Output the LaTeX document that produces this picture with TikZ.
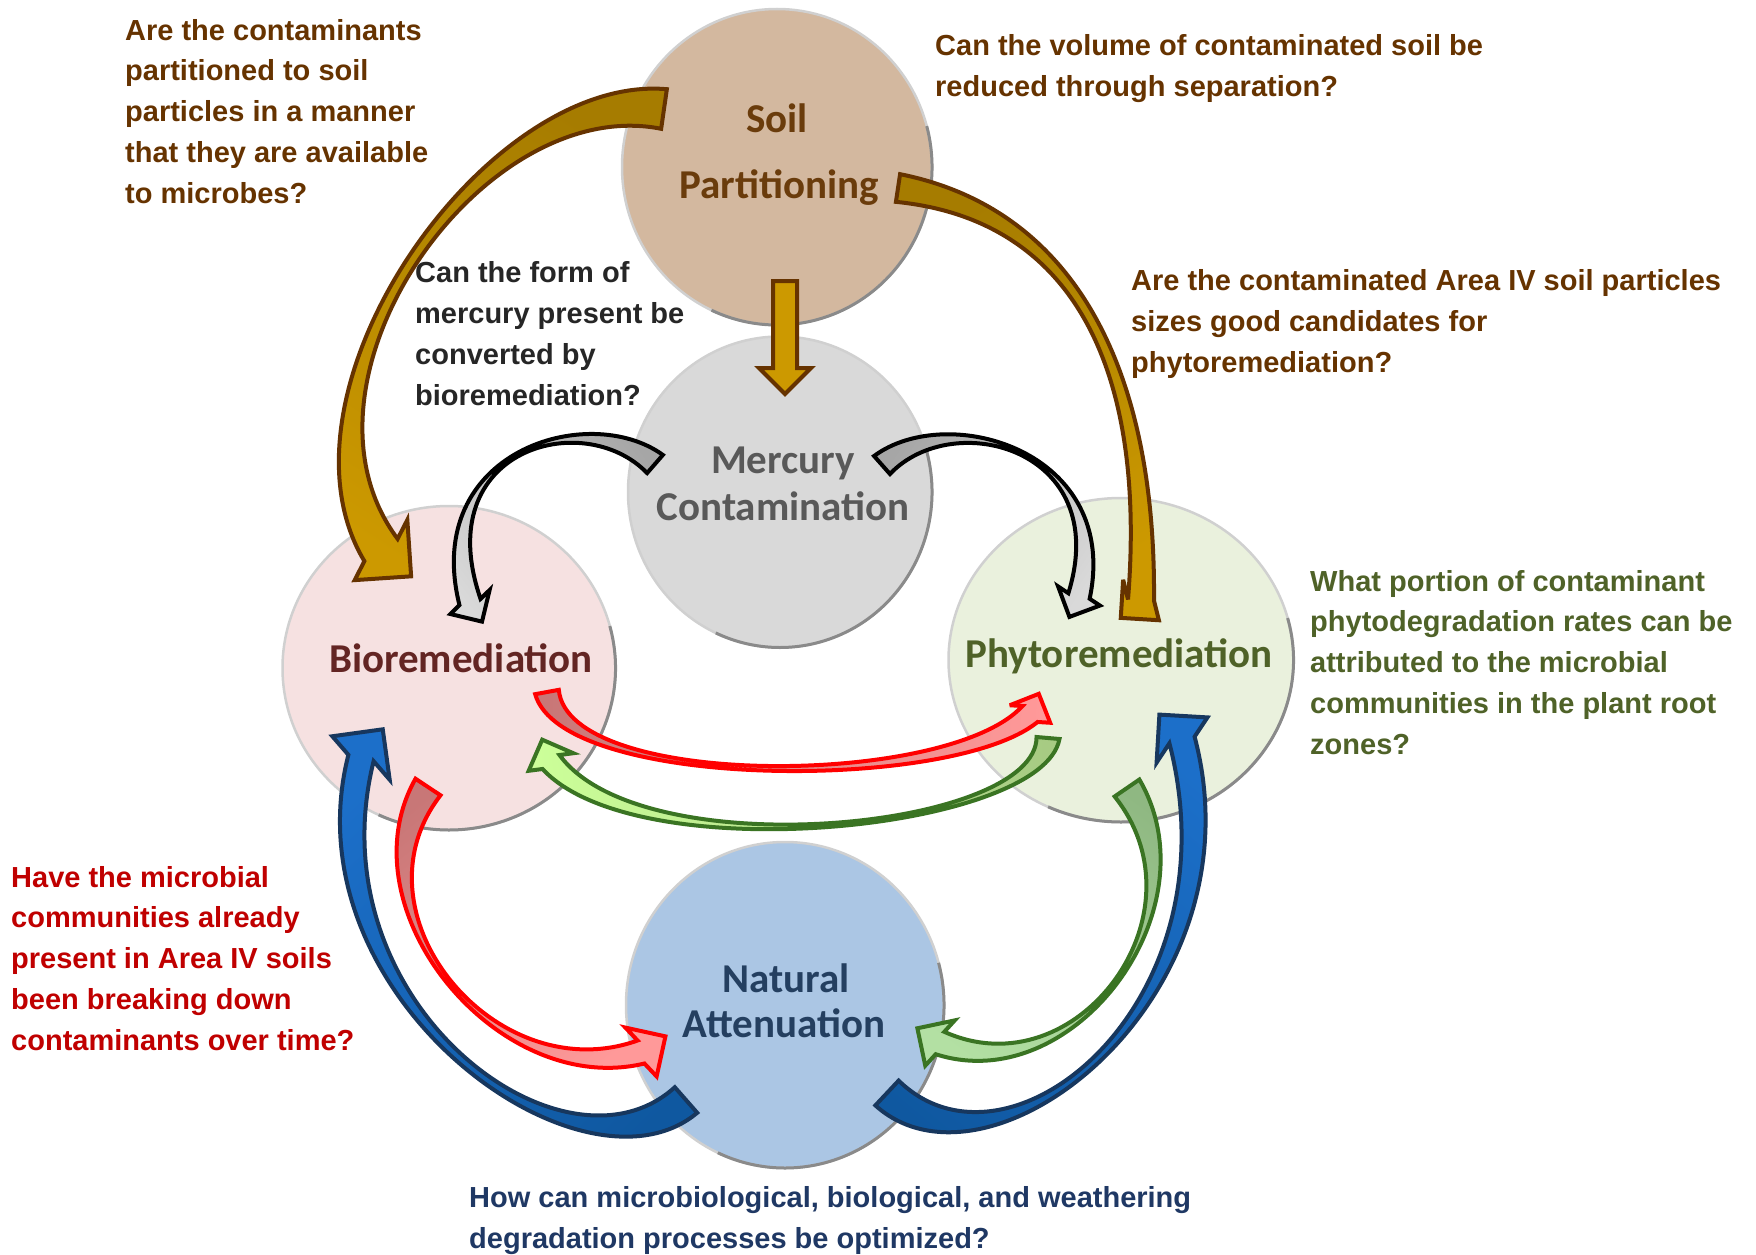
\documentclass[tikz,border=0pt]{standalone}
\usepackage{fontspec}
\setmainfont{Liberation Sans}
\newfontfamily\lblfont{Carlito}
\usetikzlibrary{calc,shapes.geometric}

\definecolor{qbrown}{HTML}{663300}
\definecolor{qgreen}{HTML}{4F6228}
\definecolor{qred}{HTML}{C00000}
\definecolor{qblue}{HTML}{1F3864}
\definecolor{qblack}{HTML}{262626}
\definecolor{soilfill}{HTML}{D3B89F}
\definecolor{hgfill}{HTML}{D9D9D9}
\definecolor{biofill}{HTML}{F6E1E1}
\definecolor{phytofill}{HTML}{EAF1DD}
\definecolor{natfill}{HTML}{ABC6E4}
\definecolor{soiltext}{HTML}{6A3C0C}
\definecolor{hgtext}{HTML}{595959}
\definecolor{biotext}{HTML}{632523}
\definecolor{phytotext}{HTML}{4F6228}
\definecolor{nattext}{HTML}{243F60}
\definecolor{rimlight}{HTML}{D0D0D0}
\definecolor{rimdark}{HTML}{8A8A8A}
\definecolor{brownline}{HTML}{663300}
\definecolor{browntail}{HTML}{A67C00}
\definecolor{brownhead}{HTML}{CC9900}
\definecolor{graytail}{HTML}{A6A6A6}
\definecolor{grayhead}{HTML}{D9D9D9}
\definecolor{redline}{HTML}{FF0000}
\definecolor{redtail}{HTML}{C87777}
\definecolor{redhead}{HTML}{FF9999}
\definecolor{greenline}{HTML}{3A7423}
\definecolor{greentail}{HTML}{A7CB83}
\definecolor{greenhead}{HTML}{CCFF99}
\definecolor{greentailb}{HTML}{8FB882}
\definecolor{greenheadb}{HTML}{B3E0A3}
\definecolor{blueline}{HTML}{17375E}
\definecolor{bluetail}{HTML}{0F58A0}
\definecolor{bluehead}{HTML}{1C6FC9}

% Turn of the next arrow head against the body tangent (degrees, counter-clockwise)
\gdef\baturn{0}
\newcommand\turnhead[1]{\gdef\baturn{#1}}

% Curved block arrow: #1 style, #2 tail centre, #3 #4 controls, #5 head base centre,
% #6 tail half width, #7 half width at the controls, #8 half width at head base, #9 head half width
\newcommand\blockarrow[9]{%
  \coordinate (ba-s) at #2;
  \coordinate (ba-ca) at #3;
  \coordinate (ba-cb) at #4;
  \coordinate (ba-e) at #5;
  \coordinate (ba-s1) at ($(ba-s)!#6pt!90:(ba-ca)$);
  \coordinate (ba-s2) at ($(ba-s)!#6pt!-90:(ba-ca)$);
  \coordinate (ba-ca1) at ($(ba-ca)!#7pt!-90:(ba-s)$);
  \coordinate (ba-ca2) at ($(ba-ca)!#7pt!90:(ba-s)$);
  \coordinate (ba-cb1) at ($(ba-cb)!#7pt!90:(ba-e)$);
  \coordinate (ba-cb2) at ($(ba-cb)!#7pt!-90:(ba-e)$);
  \coordinate (ba-e1) at ($(ba-e)!#8pt!-90:(ba-cb)$);
  \coordinate (ba-e2) at ($(ba-e)!#8pt!90:(ba-cb)$);
  \pgfmathsetmacro\baangA{-90+\baturn}%
  \pgfmathsetmacro\baangB{90+\baturn}%
  \pgfmathsetmacro\bahl{-1.0*#9}%
  \coordinate (ba-h1) at ($(ba-e)!#9pt!\baangA:(ba-cb)$);
  \coordinate (ba-h2) at ($(ba-e)!#9pt!\baangB:(ba-cb)$);
  \coordinate (ba-tip) at ($(ba-e)!\bahl pt!\baturn:(ba-cb)$);
  \path let \p1=($(ba-e)-(ba-s)$) in
    \pgfextra{\pgfmathsetmacro\baang{atan2(\y1,\x1)+90}\xdef\baangle{\baang}};
  \path[#1, shading angle=\baangle]
    (ba-s1) .. controls (ba-ca1) and (ba-cb1) .. (ba-e1) -- (ba-h1) -- (ba-tip)
    -- (ba-h2) -- (ba-e2) .. controls (ba-cb2) and (ba-ca2) .. (ba-s2) -- cycle;
  \gdef\baturn{0}%
}

% Darker rim on the lower right of a disc
\newcommand\discrim[3]{%
  \draw[rimdark, line width=3pt]
    ($(#1.center)+(-15:#2 and #3)$) arc[start angle=-15, end angle=115, x radius=#2, y radius=#3];
}

\tikzset{
  disc/.style={ellipse, draw=rimlight, line width=2.5pt, inner sep=0pt},
  qtext/.style={anchor=base west, align=left, inner sep=0pt,
    font=\bfseries\fontsize{29}{40.7}\selectfont},
  lbl/.style={anchor=base, inner sep=0pt, font=\lblfont\bfseries\fontsize{41}{47}\selectfont},
  arrowbase/.style={line width=4pt, line join=miter, miter limit=4},
  brownarrow/.style={arrowbase, draw=brownline, top color=browntail, bottom color=brownhead},
  grayarrow/.style={arrowbase, draw=black, top color=graytail, bottom color=grayhead},
  redarrow/.style={arrowbase, draw=redline, top color=redtail, bottom color=redhead},
  greenarrow/.style={arrowbase, draw=greenline, top color=greentail, bottom color=greenhead},
  greenarrowb/.style={arrowbase, draw=greenline, top color=greentailb, bottom color=greenheadb},
  bluearrow/.style={arrowbase, draw=blueline, top color=bluetail, bottom color=bluehead},
}

\begin{document}
\begin{tikzpicture}[x=1pt, y=-1pt]
\fill[white] (0,0) rectangle (1756,1255);
\useasboundingbox (0,0) rectangle (1756,1255);

% discs
\node[disc, fill=soilfill, minimum width=310pt, minimum height=316pt] (soil) at (777,167) {};
\discrim{soil}{155}{158}
\node[disc, fill=hgfill, minimum width=304pt, minimum height=311pt] (hg) at (780,492) {};
\discrim{hg}{152}{155.5}
\node[disc, fill=biofill, minimum width=333pt, minimum height=324pt] (bio) at (449,668) {};
\discrim{bio}{166.5}{162}
\node[disc, fill=phytofill, minimum width=345pt, minimum height=324pt] (phyto) at (1121,660) {};
\discrim{phyto}{172.5}{162}
\node[disc, fill=natfill, minimum width=318pt, minimum height=326pt] (nat) at (785,1005) {};
\discrim{nat}{159}{163}

% disc labels
\node[lbl, text=soiltext] (soil-l1) at (777,132) {Soil};
\node[lbl, text=soiltext] (soil-l2) at (779,198) {Partitioning};
\node[lbl, text=hgtext] (hg-l1) at (783,473) {Mercury};
\node[lbl, text=hgtext] (hg-l2) at (783,520) {Contamination};
\node[lbl, text=biotext] (bio-l) at (461,672) {Bioremediation};
\node[lbl, text=phytotext] (phyto-l) at (1119,667) {Phytoremediation};
\node[lbl, text=nattext] (nat-l1) at (786,992) {Natural};
\node[lbl, text=nattext] (nat-l2) at (784,1037) {Attenuation};

% straight arrow from soil partitioning down to mercury
\coordinate (st-top) at (785,281);
\coordinate (st-tip) at (785,394);
\draw[arrowbase, draw=brownline, fill=brownhead]
  ($(st-top)+(-12,0)$) -- ($(st-top)+(12,0)$) -- ($(st-tip)+(12,-26)$) -- ($(st-tip)+(26,-26)$)
  -- (st-tip) -- ($(st-tip)+(-26,-26)$) -- ($(st-tip)+(-12,-26)$) -- cycle;

% curved block arrows
\turnhead{15}
\blockarrow{brownarrow}{(664,109)}{(484,83)}{(271,386)}{(381,550)}{20}{10}{20}{40}
\turnhead{-46}
\blockarrow{brownarrow}{(898,188)}{(1078,215)}{(1151,375)}{(1141,600)}{14}{5}{13}{27}
\turnhead{15}
\blockarrow{grayarrow}{(655,464)}{(586,404)}{(425,450)}{(470,602)}{12}{4}{11}{23}
\turnhead{-10}
\blockarrow{grayarrow}{(882,465)}{(951,404)}{(1117,450)}{(1079,596)}{12}{4}{11}{23}
\turnhead{23}
\blockarrow{redarrow}{(547,692)}{(565,790)}{(950,790)}{(1030,714)}{12}{3}{11}{22}
\turnhead{-18}
\blockarrow{greenarrow}{(1048,738)}{(1040,830)}{(640,870)}{(551,762)}{11.5}{3}{11}{24}
\turnhead{-23}
\blockarrow{bluearrow}{(686,1100)}{(573,1199)}{(300,1000)}{(361,758)}{17}{14}{13}{36}
\turnhead{27}
\blockarrow{bluearrow}{(887,1093)}{(1000,1199)}{(1250,1000)}{(1182,740)}{17}{14}{13}{34}
\turnhead{16}
\blockarrow{redarrow}{(428,787)}{(345,912)}{(497,1095)}{(641,1052)}{15}{4}{12}{29}
\turnhead{-12}
\blockarrow{greenarrowb}{(1127,788)}{(1212,912)}{(1075,1095)}{(940,1043)}{15}{4}{12}{27}

% questions (anchored at the baseline of the last line)
\node[qtext, text=qbrown] (q-avail) at (125,203)
  {Are the contaminants\\partitioned to soil\\particles in a manner\\that they are available\\to microbes?};
\node[qtext, text=qbrown] (q-volume) at (935,96)
  {Can the volume of contaminated soil be\\reduced through separation?};
\node[qtext, text=qbrown] (q-sizes) at (1131,372)
  {Are the contaminated Area IV soil particles\\sizes good candidates for\\phytoremediation?};
\node[qtext, text=qblack] (q-form) at (415,405)
  {Can the form of\\mercury present be\\converted by\\bioremediation?};
\node[qtext, text=qgreen] (q-portion) at (1310,754)
  {What portion of contaminant\\phytodegradation rates can be\\attributed to the microbial\\communities in the plant root\\zones?};
\node[qtext, text=qred] (q-microbial) at (11,1050)
  {Have the microbial\\communities already\\present in Area IV soils\\been breaking down\\contaminants over time?};
\node[qtext, text=qblue] (q-optimize) at (469,1248)
  {How can microbiological, biological, and weathering\\degradation processes be optimized?};
\end{tikzpicture}
\end{document}
